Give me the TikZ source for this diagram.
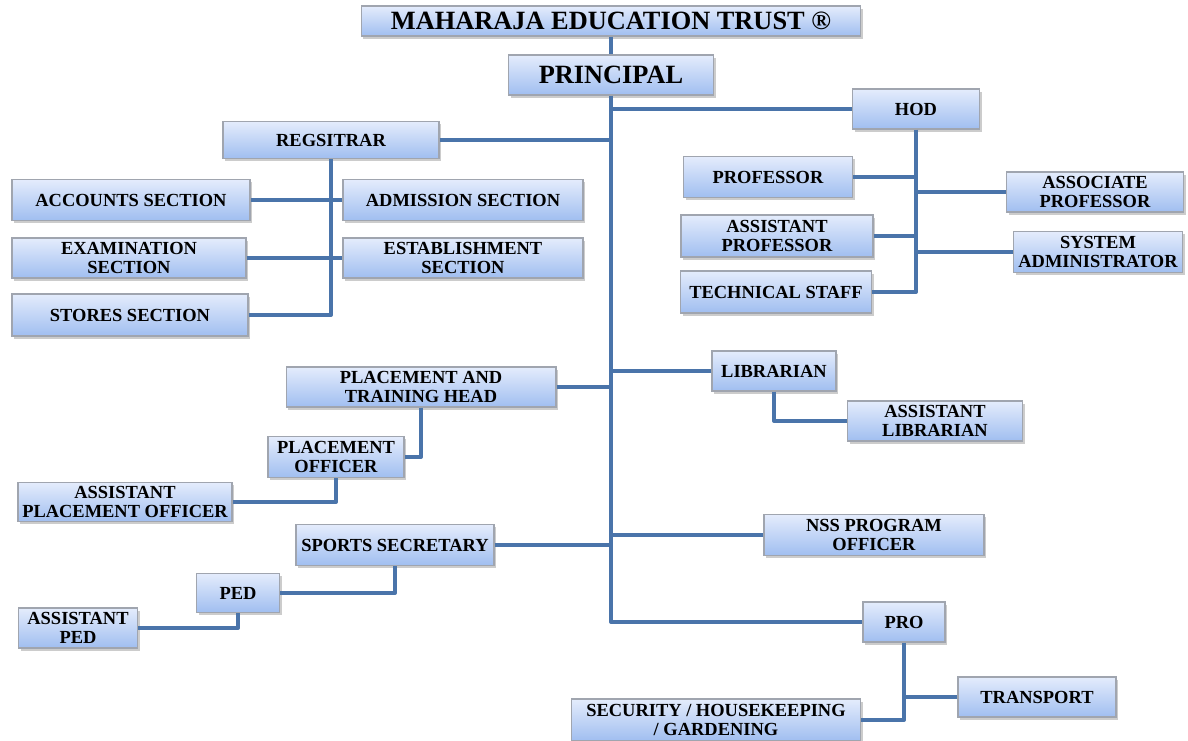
\documentclass[tikz,border=0pt]{standalone}
\usepackage{fontspec}
\setmainfont{Liberation Serif}
\usetikzlibrary{shadows}
\definecolor{linkblue}{RGB}{74,116,170}
\definecolor{boxtop}{RGB}{228,236,252}
\definecolor{boxbot}{RGB}{160,190,240}
\definecolor{boxrim}{RGB}{160,165,175}
\tikzset{
  unit/.style={draw=boxrim, line width=0.6pt, top color=boxtop, bottom color=boxbot,
    drop shadow={shadow xshift=1.2pt, shadow yshift=-1.5pt, opacity=0.4},
    align=center, inner sep=0pt, minimum height=0.8cm,
    font=\fontsize{10.5}{11}\selectfont\bfseries},
  head/.style={unit, font=\fontsize{15}{16}\selectfont\bfseries},
  link/.style={draw=linkblue, line width=2.3pt, line join=round}
}

\begin{document}
\begin{tikzpicture}[x=0.02cm, y=-0.02cm]
    \useasboundingbox (0,0) rectangle (1188,741);

    % top of the chart
    \node[head, minimum width=10cm, minimum height=0.6cm] (trust) at (611,21) {MAHARAJA EDUCATION TRUST ®};
    \node[head, minimum width=4.1cm] (principal) at (611,75) {PRINCIPAL};

    % registrar side
    \node[unit, minimum width=4.32cm, minimum height=0.74cm] (reg) at (331,140) {REGSITRAR};
    \node[unit, minimum width=4.76cm, minimum height=0.82cm] (acc) at (131,200) {ACCOUNTS SECTION};
    \node[unit, minimum width=4.8cm, minimum height=0.82cm] (adm) at (463,200) {ADMISSION SECTION};
    \node[unit, minimum width=4.68cm] (exam) at (129,258) {EXAMINATION\\SECTION};
    \node[unit, minimum width=4.8cm] (estab) at (463,258) {ESTABLISHMENT\\SECTION};
    \node[unit, minimum width=4.72cm, minimum height=0.84cm] (stores) at (130,315) {STORES SECTION};

    % hod side
    \node[unit, minimum width=2.54cm] (hod) at (916,109) {HOD};
    \node[unit, minimum width=3.38cm, minimum height=0.82cm] (prof) at (768,177) {PROFESSOR};
    \node[unit, minimum width=3.54cm] (assoc) at (1095,192) {ASSOCIATE\\PROFESSOR};
    \node[unit, minimum width=3.84cm, minimum height=0.84cm] (aprof) at (777,236) {ASSISTANT\\PROFESSOR};
    \node[unit, minimum width=3.38cm, minimum height=0.82cm] (sysad) at (1098,252) {SYSTEM\\ADMINISTRATOR};
    \node[unit, minimum width=3.82cm, minimum height=0.84cm] (tech) at (776,292) {TECHNICAL STAFF};

    % library
    \node[unit, minimum width=2.48cm] (lib) at (774,371) {LIBRARIAN};
    \node[unit, minimum width=3.5cm] (alib) at (935,421) {ASSISTANT\\LIBRARIAN};

    % placement
    \node[unit, minimum width=5.4cm] (pth) at (421,387) {PLACEMENT AND\\TRAINING HEAD};
    \node[unit, minimum width=2.72cm, minimum height=0.82cm] (po) at (336,457) {PLACEMENT\\OFFICER};
    \node[unit, minimum width=4.28cm, minimum height=0.78cm] (apo) at (125,502) {ASSISTANT\\PLACEMENT OFFICER};

    % nss and sports
    \node[unit, minimum width=4.4cm, minimum height=0.82cm] (nss) at (874,535) {NSS PROGRAM\\OFFICER};
    \node[unit, minimum width=3.96cm, minimum height=0.82cm] (ss) at (395,545) {SPORTS SECRETARY};
    \node[unit, minimum width=1.66cm, minimum height=0.78cm] (ped) at (238,593) {PED};
    \node[unit, minimum width=2.38cm] (aped) at (78,628) {ASSISTANT\\PED};

    % pro
    \node[unit, minimum width=1.64cm] (pro) at (904,622) {PRO};
    \node[unit, minimum width=3.16cm] (tr) at (1037,697) {TRANSPORT};
    \node[unit, minimum width=5.78cm, minimum height=0.84cm] (sec) at (716,720) {SECURITY / HOUSEKEEPING\\/ GARDENING};

    % connectors
    \draw[link] (trust.south) -- (principal.north);
    \draw[link] (principal.south) -- (principal.south |- pro.west) -- (pro.west);
    \draw[link] (hod.west) -- (hod.west -| principal.south);
    \draw[link] (reg.east) -- (reg.east -| principal.south);
    \draw[link] (lib.west) -- (lib.west -| principal.south);
    \draw[link] (pth.east) -- (pth.east -| principal.south);
    \draw[link] (nss.west) -- (nss.west -| principal.south);
    \draw[link] (ss.east) -- (ss.east -| principal.south);

    \draw[link] (reg.south) |- (stores.east);
    \draw[link] (acc.east) -- (adm.west);
    \draw[link] (exam.east) -- (estab.west);

    \draw[link] (hod.south) |- (tech.east);
    \draw[link] (prof.east) -- (prof.east -| hod.south);
    \draw[link] (aprof.east) -- (aprof.east -| hod.south);
    \draw[link] (assoc.west) -- (assoc.west -| hod.south);
    \draw[link] (sysad.west) -- (sysad.west -| hod.south);

    \draw[link] (lib.south) |- (alib.west);
    \draw[link] (pth.south) |- (po.east);
    \draw[link] (po.south) |- (apo.east);
    \draw[link] (ss.south) |- (ped.east);
    \draw[link] (ped.south) |- (aped.east);

    \draw[link] (pro.south) |- (sec.east);
    \draw[link] (tr.west) -- (tr.west -| pro.south);
\end{tikzpicture}
\end{document}
